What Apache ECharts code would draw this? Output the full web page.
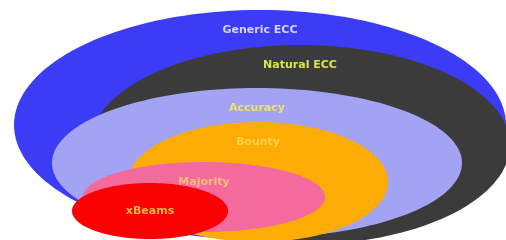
<!DOCTYPE html>
<html>
<head>
<meta charset="utf-8">
<script src="https://cdn.jsdelivr.net/npm/echarts@6/dist/echarts.min.js"></script>
<style>
  html, body { margin: 0; padding: 0; background: #fff; }
  #main { width: 506px; height: 240px; }
</style>
</head>
<body>
<div id="main"></div>
<script>
// nested sets, outermost first
var names = ['Generic ECC', 'Natural ECC', 'Accuracy', 'Bounty', 'Majority', 'xBeams'];
var centerX = [260, 300, 257, 258, 204, 150];
var centerY = [125, 145, 163, 182, 197, 211];
var radiusX = [246, 210, 205, 130, 121, 78];
var radiusY = [115, 100, 75, 60, 35, 28];

var fills = ['#3c3cf6', '#3b3b3b', '#a3a3f4', '#fdab05', '#f56a9d', '#fb0202'];
var textColors = ['#d6d6ff', '#d6e64a', '#ece266', '#ffd24a', '#ffbd7a', '#ffb347'];

var chart = echarts.init(document.getElementById('main'));

var data = names.map(function (n, i) {
    return [centerX[i], centerY[i], radiusX[i], radiusY[i]];
});

chart.setOption({
    animation: false,
    grid: { left: 0, right: 0, top: 0, bottom: 0 },
    xAxis: { type: 'value', min: 0, max: 506, show: false },
    yAxis: { type: 'value', min: 0, max: 240, inverse: true, show: false },
    series: [{
        type: 'custom',
        data: data,
        renderItem: function (params, api) {
            var i = params.dataIndex;
            var cx = api.value(0), cy = api.value(1), rx = api.value(2), ry = api.value(3);
            var pts = [];
            for (var k = 0; k < 160; k++) {
                var t = k / 160 * Math.PI * 2;
                pts.push(api.coord([cx + rx * Math.cos(t), cy + ry * Math.sin(t)]));
            }
            // label sits near the top of its ring, innermost one in the middle
            var dy = i === names.length - 1 ? ry : 20;
            var p = api.coord([cx, cy - ry + dy]);
            return {
                type: 'group',
                children: [{
                    type: 'polygon',
                    shape: { points: pts },
                    style: { fill: fills[i] }
                }, {
                    type: 'text',
                    x: p[0],
                    y: p[1],
                    z2: 10,
                    style: {
                        text: names[i],
                        fill: textColors[i],
                        font: 'bold 11px "DejaVu Sans", sans-serif',
                        align: 'center',
                        verticalAlign: 'middle'
                    }
                }]
            };
        }
    }]
});
</script>
</body>
</html>
